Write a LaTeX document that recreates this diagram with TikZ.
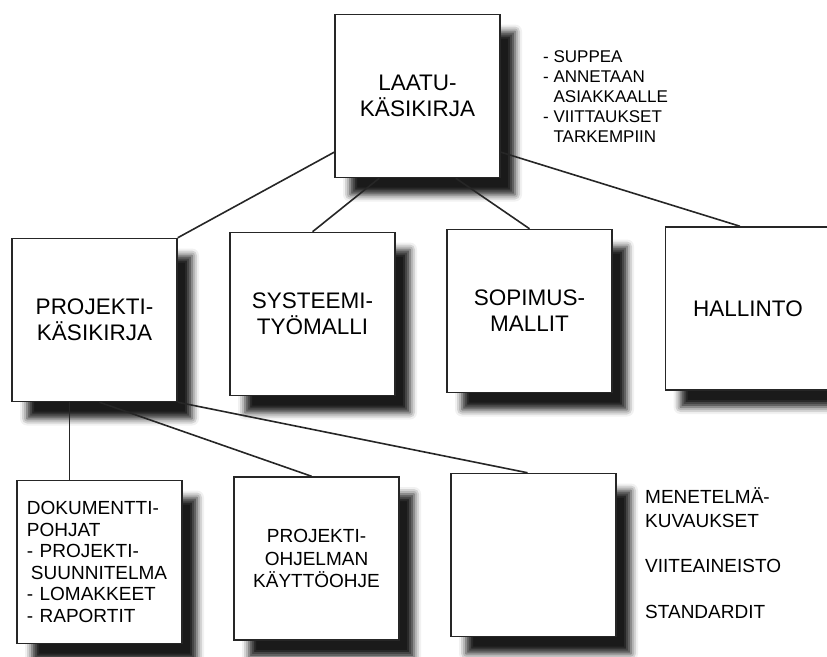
\documentclass[tikz,border=0pt]{standalone}
\usepackage{fontspec}
\setmainfont{Liberation Sans}
\usepackage{tikz}
\usetikzlibrary{shadows.blur}
\colorlet{box edge}{black!85}
\tikzset{kirja/.style={draw=box edge, line width=1.5pt, fill=white,
        minimum width=165pt, minimum height=163pt, inner sep=0pt, align=center,
        font=\fontsize{22.5}{26}\selectfont,
        blur shadow={shadow xshift=15pt, shadow yshift=-17pt,
                     shadow blur radius=7pt, shadow opacity=90}},
    liite/.style={kirja, font=\fontsize{19}{22.5}\selectfont},
    huomio/.style={align=left, inner sep=0pt, anchor=base west},
    yhteys/.style={draw=box edge, line width=1.6pt}}

\begin{document}
\begin{tikzpicture}[x=1pt, y=-1pt]
    \useasboundingbox (0,0) rectangle (827,656);
    % ylataso
    \node[kirja] (laatu) at (417.5,96) {LAATU-\\KÄSIKIRJA};
    \node[huomio, font=\fontsize{17}{20}\selectfont] (suppea) at (543,142)
        {- SUPPEA\\- ANNETAAN\\\hphantom{- }ASIAKKAALLE\\- VIITTAUKSET\\\hphantom{- }TARKEMPIIN};
    % toinen taso
    \node[kirja] (proj) at (94.5,320) {PROJEKTI-\\KÄSIKIRJA};
    \node[kirja] (sys) at (312.5,314) {SYSTEEMI-\\TYÖMALLI};
    \node[kirja] (sop) at (529.5,311) {SOPIMUS-\\MALLIT};
    \node[kirja] (hal) at (748,308.5) {HALLINTO};
    % alataso
    \node[liite, align=left, text width=145pt, font=\fontsize{19}{21.5}\selectfont]
        (dok) at (99.5,562)
        {DOKUMENTTI-\\POHJAT\\- PROJEKTI-\\\hspace*{4pt}SUUNNITELMA\\- LOMAKKEET\\- RAPORTIT};
    \node[liite] (ohj) at (316.5,558.5) {PROJEKTI-\\OHJELMAN\\KÄYTTÖOHJE};
    \node[liite] (tyhja) at (533.5,555) {};
    \node[huomio, font=\fontsize{19}{24}\selectfont] (menet) at (645,527) {MENETELMÄ-\\KUVAUKSET};
    \node[huomio, font=\fontsize{19}{24}\selectfont] (viite) at (645,572) {VIITEAINEISTO};
    \node[huomio, font=\fontsize{19}{24}\selectfont] (stand) at (645,618) {STANDARDIT};

    \draw[yhteys] (laatu.214) -- (proj.north east);
    \draw[yhteys] (laatu.245) -- (sys.north);
    \draw[yhteys] (laatu.295) -- (sop.north);
    \draw[yhteys] (laatu.326) -- ([xshift=-8pt]hal.north);
    \draw[yhteys] ([xshift=-30pt]dok.north) -- ([xshift=-30pt]dok.north |- proj.south);
    \draw[yhteys] ([xshift=5pt]proj.south) -- ([xshift=-5pt]ohj.north);
    \draw[yhteys] (proj.south east) -- ([xshift=-6pt]tyhja.north);
\end{tikzpicture}
\end{document}
